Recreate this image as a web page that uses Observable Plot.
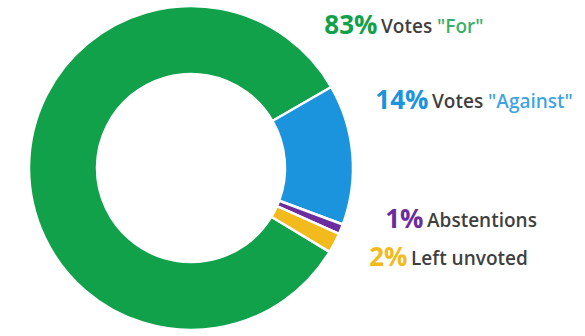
<!DOCTYPE html>
<html><head><meta charset="utf-8">
<script src="https://cdn.jsdelivr.net/npm/d3@7"></script>
<script src="https://cdn.jsdelivr.net/npm/@observablehq/plot@0.6"></script>
<style>html,body{margin:0;padding:0;background:#fff;} #chart svg{display:block;}</style>
</head><body><div id="chart"></div>
<script>
// ---- data ----
const categories = ["For", "Against", "Abstentions", "Left unvoted"];
const shares = [83, 14, 1, 2];
const labelPrefix = ["Votes ", "Votes ", "", ""];
const labelWords = ['"For"', '"Against"', "Abstentions", "Left unvoted"];
const sliceColors = ["#12a14b", "#1b93dd", "#6b2d9e", "#f3ba1e"];

const data = categories.map((c, i) => ({category: c, share: shares[i], prefix: labelPrefix[i], word: labelWords[i]}));

// ---- layout ----
const W = 585, H = 336;
const cx = 191, cy = 168, rOuter = 162, rInner = 94;
const startDeg = 60 - 360 * shares[0] / 100;
const labelEndX = [377, 428, 423, 407];
const labelBaseY = [33, 108, 227, 265];
const wordColored = [true, true, false, false];
const greyText = "#3f3f3f";

function donut(index, scales) {
  const color = scales.color || d3.scaleOrdinal(categories, sliceColors);
  const pie = d3.pie().sort(null).value(d => d.share)
    .startAngle(startDeg * Math.PI / 180).endAngle((startDeg + 360) * Math.PI / 180);
  const arc = d3.arc().innerRadius(rInner).outerRadius(rOuter);
  const g = d3.create("svg:g").attr("transform", `translate(${cx},${cy})`);
  g.selectAll("path").data(pie(data)).join("path")
    .attr("d", arc)
    .attr("fill", d => color(d.data.category))
    .attr("stroke", "#fff").attr("stroke-width", 2.5).attr("stroke-linejoin", "round");
  return g.node();
}

function descriptions(index, scales) {
  const color = scales.color || d3.scaleOrdinal(categories, sliceColors);
  const g = d3.create("svg:g")
    .attr("font-family", "'Open Sans', sans-serif")
    .attr("text-anchor", "start")
    .attr("font-size", 19).attr("font-weight", 600);
  data.forEach((d, i) => {
    const t = g.append("text").attr("x", labelEndX[i] + 4).attr("y", labelBaseY[i]).attr("fill", greyText);
    if (d.prefix) t.append("tspan").text(d.prefix);
    t.append("tspan").text(d.word).attr("fill", wordColored[i] ? color(d.category) : greyText)
      .attr("fill-opacity", wordColored[i] ? 0.85 : 1);
  });
  return g.node();
}

const chart = Plot.plot({
  width: W, height: H, margin: 0,
  x: {type: "identity", axis: null},
  y: {type: "identity", axis: null},
  color: {domain: categories, range: sliceColors},
  style: {fontFamily: "'Open Sans', sans-serif", background: "#fff", overflow: "visible"},
  marks: [
    donut,
    Plot.text(data, {
      x: (d, i) => labelEndX[i], y: (d, i) => labelBaseY[i],
      text: d => d.share + "%", fill: "category",
      textAnchor: "end", lineAnchor: "bottom",
      fontSize: 26, fontWeight: 700
    }),
    descriptions
  ]
});
document.getElementById("chart").append(chart);
</script>
</body></html>
